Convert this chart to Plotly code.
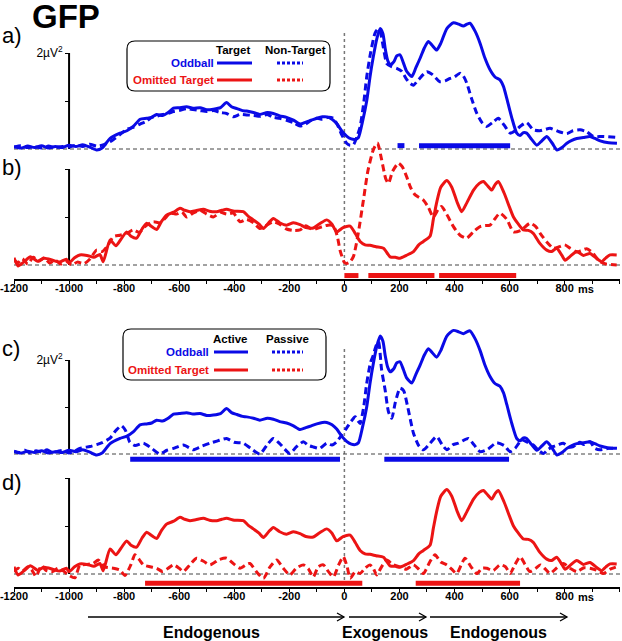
import plotly.graph_objects as go

# ---------------- DATA (values in µV², time in ms) ----------------
# Oddball Target (= Oddball Active), panels a and c, solid blue
odd_target_t = [-1200, -1175, -1150, -1125, -1100, -1075, -1050, -1025, -1000, -975, -950, -925, -900, -880,
                -851, -815, -790, -767, -742, -718, -700, -682, -660, -640, -621, -600, -573, -550, -524, -500,
                -476, -450, -428, -410, -390, -370, -355, -330, -307, -280, -258, -235, -210, -185, -161, -140,
                -120, -100, -80, -64, -45, -28, -10, 8, 25, 39, 51, 65, 81, 93, 105, 118, 130, 140, 148, 157,
                166, 180, 190, 202, 214, 226, 245, 260, 275, 290, 305, 320, 335, 350, 372, 396, 415, 432, 445,
                456, 475, 493, 510, 529, 547, 565, 578, 590, 608, 626, 638, 650, 662, 680, 699, 717, 735, 755,
                772, 790, 808, 826, 844, 868, 892, 910, 929, 960, 990]
odd_target_v = [0.05, 0.02, 0.06, 0.03, 0.07, 0.02, 0.05, 0.03, 0.08, 0.05, 0.09, 0.04, -0.02, 0.02,
                0.22, 0.33, 0.38, 0.47, 0.62, 0.64, 0.66, 0.72, 0.70, 0.76, 0.85, 0.86, 0.88, 0.85, 0.86, 0.82,
                0.83, 0.86, 0.97, 0.88, 0.84, 0.80, 0.79, 0.76, 0.72, 0.76, 0.74, 0.69, 0.66, 0.60, 0.52, 0.56,
                0.60, 0.64, 0.67, 0.67, 0.62, 0.53, 0.38, 0.27, 0.21, 0.20, 0.24, 0.55, 1.00, 1.50, 1.92, 2.30,
                2.51, 2.40, 2.10, 1.85, 1.75, 1.82, 1.94, 1.96, 1.80, 1.62, 1.51, 1.70, 1.89, 2.10, 2.24, 2.15,
                2.06, 2.20, 2.51, 2.63, 2.60, 2.56, 2.60, 2.62, 2.45, 2.20, 1.90, 1.65, 1.50, 1.44, 1.30, 1.05,
                0.65, 0.33, 0.28, 0.34, 0.33, 0.20, 0.08, 0.17, 0.26, 0.12, -0.02, 0.03, 0.12, 0.18, 0.22, 0.24,
                0.26, 0.22, 0.17, 0.13, 0.12]

# Oddball Non-Target, panel a, dashed blue
odd_nontarget_t = [-1200, -1175, -1150, -1125, -1100, -1075, -1050, -1025, -1000, -975, -950, -925, -900, -880,
                   -851, -815, -790, -767, -742, -718, -700, -682, -660, -640, -621, -600, -573, -550, -524, -500,
                   -476, -450, -428, -403, -380, -355, -330, -307, -280, -258, -235, -210, -185, -161, -140, -120,
                   -100, -80, -60, -40, -25, -10, 8, 20, 33, 45, 57, 70, 81, 95, 111, 122, 130, 142, 154, 170,
                   190, 208, 226, 240, 251, 270, 299, 320, 347, 366, 384, 400, 420, 432, 444, 462, 481, 500, 517,
                   540, 559, 580, 602, 620, 640, 662, 686, 710, 747, 780, 808, 830, 856, 880, 904, 940, 989]
odd_nontarget_v = [0.04, 0.07, 0.03, 0.05, 0.02, 0.06, 0.03, 0.05, 0.04, 0.08, 0.05, 0.10, 0.06, 0.08,
                   0.15, 0.30, 0.41, 0.45, 0.52, 0.58, 0.66, 0.68, 0.72, 0.74, 0.78, 0.80, 0.84, 0.82, 0.80, 0.78,
                   0.80, 0.76, 0.74, 0.67, 0.72, 0.71, 0.70, 0.68, 0.72, 0.66, 0.64, 0.60, 0.55, 0.48, 0.52, 0.60,
                   0.64, 0.62, 0.66, 0.64, 0.50, 0.30, 0.12, 0.08, 0.09, 0.25, 0.46, 0.95, 1.50, 2.00, 2.41, 2.50,
                   2.45, 2.10, 1.78, 1.72, 1.68, 1.62, 1.45, 1.36, 1.33, 1.45, 1.61, 1.55, 1.40, 1.42, 1.47, 1.50,
                   1.58, 1.52, 1.38, 1.05, 0.74, 0.55, 0.47, 0.56, 0.64, 0.50, 0.33, 0.38, 0.48, 0.55, 0.40, 0.38,
                   0.43, 0.36, 0.32, 0.38, 0.40, 0.36, 0.26, 0.26, 0.24]

# Omitted Target (= Omitted Target Active), panels b and d, solid red
om_target_t = [-1200, -1185, -1165, -1140, -1115, -1090, -1060, -1035, -1010, -1000, -980, -961, -935, -910,
               -888, -876, -851, -830, -810, -791, -775, -755, -735, -718, -700, -682, -665, -646, -620, -597,
               -580, -561, -540, -512, -490, -464, -445, -428, -400, -367, -350, -331, -310, -294, -275, -258,
               -235, -210, -185, -161, -140, -113, -90, -64, -45, -28, -5, 21, 40, 57, 75, 93, 115, 142, 166,
               185, 202, 225, 251, 270, 287, 311, 323, 335, 350, 372, 390, 410, 426, 445, 469, 490, 505, 520,
               535, 548, 559, 580, 600, 614, 632, 650, 668, 686, 710, 735, 752, 771, 790, 802, 820, 844, 868,
               892, 915, 935, 950, 965, 989]
om_target_v = [0.15, -0.02, 0.06, 0.17, 0.08, 0.14, 0.10, 0.06, 0.12, 0.05, 0.15, 0.21, 0.20, 0.16,
               0.22, 0.07, 0.52, 0.40, 0.55, 0.69, 0.60, 0.56, 0.75, 0.87, 0.80, 0.74, 0.90, 1.04, 1.10, 1.18,
               1.14, 1.11, 1.13, 1.16, 1.12, 1.11, 1.14, 1.16, 1.12, 1.11, 1.02, 0.94, 0.85, 0.76, 0.88, 0.97,
               0.88, 0.83, 0.88, 0.84, 0.78, 0.77, 0.86, 0.94, 0.85, 0.69, 0.78, 0.81, 0.65, 0.49, 0.42, 0.41,
               0.38, 0.35, 0.17, 0.16, 0.14, 0.20, 0.28, 0.42, 0.49, 0.60, 0.95, 1.30, 1.62, 1.76, 1.62, 1.30,
               1.11, 1.30, 1.56, 1.70, 1.74, 1.65, 1.56, 1.68, 1.74, 1.50, 1.20, 1.00, 0.85, 0.73, 0.72, 0.66,
               0.45, 0.31, 0.28, 0.35, 0.20, 0.10, 0.18, 0.28, 0.20, 0.24, 0.14, 0.07, 0.15, 0.21, 0.21]

# Omitted Target Non-Target, panel b, dashed red
om_nontarget_t = [-1200, -1185, -1170, -1150, -1130, -1110, -1090, -1070, -1050, -1030, -1010, -990, -970, -945,
                  -925, -900, -880, -860, -839, -815, -790, -767, -745, -720, -694, -670, -650, -634, -610, -590,
                  -573, -550, -524, -500, -476, -450, -428, -403, -379, -355, -330, -307, -285, -258, -235, -210,
                  -185, -161, -140, -120, -100, -80, -60, -40, -25, -16, 0, 8, 20, 33, 50, 69, 85, 105, 120, 135,
                  150, 160, 175, 196, 210, 226, 240, 257, 287, 305, 323, 340, 353, 372, 396, 420, 444, 470, 493,
                  510, 529, 545, 565, 590, 614, 640, 674, 695, 711, 735, 759, 780, 800, 820, 844, 860, 880, 900,
                  928, 950, 989]
om_nontarget_v = [0.10, 0.05, 0.13, 0.02, 0.16, 0.08, 0.15, 0.04, 0.10, 0.02, 0.08, 0.00, 0.06, 0.03,
                  0.12, 0.31, 0.28, 0.40, 0.59, 0.62, 0.66, 0.73, 0.68, 0.82, 0.90, 0.88, 0.98, 1.08, 1.06, 1.10,
                  1.00, 1.08, 1.14, 1.06, 1.00, 1.10, 1.06, 1.08, 0.90, 0.95, 0.88, 0.76, 0.82, 0.90, 0.85, 0.75,
                  0.72, 0.73, 0.82, 0.75, 0.76, 0.80, 0.83, 0.82, 0.58, 0.31, 0.05, 0.03, 0.06, 0.18, 0.65, 1.35,
                  1.95, 2.40, 2.54, 2.20, 1.80, 1.70, 1.95, 2.12, 2.05, 1.84, 1.62, 1.46, 1.35, 1.20, 1.00, 1.15,
                  1.22, 1.05, 0.80, 0.62, 0.56, 0.70, 0.80, 0.82, 0.83, 0.95, 1.08, 0.95, 0.69, 0.72, 0.87, 0.80,
                  0.66, 0.48, 0.35, 0.38, 0.42, 0.35, 0.27, 0.30, 0.34, 0.26, 0.07, 0.02, 0.00]

# Oddball Passive, panel c, dashed blue
odd_passive_t = [-1200, -1180, -1160, -1140, -1120, -1100, -1080, -1060, -1040, -1020, -1000, -980, -961, -924,
                 -900, -880, -851, -830, -810, -795, -779, -760, -730, -700, -670, -645, -621, -585, -560, -549,
                 -520, -488, -460, -428, -400, -367, -340, -307, -280, -258, -235, -198, -175, -149, -130, -113,
                 -90, -64, -45, -28, -10, 8, 25, 39, 50, 57, 70, 81, 95, 105, 115, 124, 135, 148, 160, 172, 185,
                 202, 215, 230, 251, 270, 287, 310, 335, 355, 372, 395, 414, 450, 470, 493, 520, 553, 580, 602,
                 620, 644, 665, 686, 705, 723, 740, 759, 777, 795, 815, 832, 855, 870, 892, 910, 928, 960, 989]
odd_passive_v = [0.06, 0.03, 0.08, 0.02, 0.07, 0.04, 0.09, 0.03, 0.06, 0.08, 0.02, 0.06, 0.12, 0.16,
                 0.20, 0.24, 0.34, 0.50, 0.60, 0.50, 0.25, 0.18, 0.23, 0.12, 0.00, 0.08, 0.12, 0.19, 0.12, 0.09,
                 0.16, 0.23, 0.28, 0.33, 0.25, 0.23, 0.12, 0.00, 0.20, 0.33, 0.22, 0.01, 0.15, 0.26, 0.18, 0.15,
                 0.12, 0.23, 0.19, 0.26, 0.40, 0.55, 0.70, 0.79, 0.70, 0.65, 1.00, 1.50, 1.95, 2.10, 2.30, 2.39,
                 1.80, 1.36, 0.90, 0.76, 1.10, 1.40, 1.35, 1.00, 0.44, 0.18, 0.09, 0.22, 0.37, 0.20, 0.09, 0.20,
                 0.23, 0.33, 0.20, 0.05, 0.10, 0.24, 0.18, 0.05, 0.12, 0.30, 0.25, 0.19, 0.08, 0.01, 0.10, 0.16,
                 0.20, 0.23, 0.15, 0.16, 0.25, 0.20, 0.26, 0.12, 0.09, 0.12, 0.12]

# Omitted Target Passive, panel d, dashed red
om_passive_t = [-1200, -1185, -1170, -1150, -1135, -1120, -1100, -1085, -1060, -1040, -1020, -1003, -979, -961,
                -935, -912, -894, -870, -839, -815, -797, -775, -761, -745, -730, -705, -682, -660, -640, -621,
                -600, -585, -560, -537, -510, -488, -455, -428, -400, -379, -355, -343, -320, -294, -270, -246,
                -222, -198, -175, -149, -130, -113, -95, -76, -58, -40, -20, -4, 10, 21, 40, 57, 75, 93, 105,
                117, 135, 154, 175, 202, 225, 251, 270, 287, 310, 329, 350, 372, 390, 408, 425, 438, 460, 481,
                500, 517, 540, 565, 585, 602, 620, 638, 656, 674, 695, 711, 730, 747, 770, 795, 820, 844, 870,
                892, 915, 941, 965, 989]
om_passive_v = [0.05, 0.12, 0.06, 0.15, 0.08, -0.05, 0.18, 0.08, 0.05, 0.12, 0.06, -0.02, -0.08, 0.18,
                0.20, 0.22, 0.29, 0.15, 0.12, 0.08, -0.03, 0.20, 0.40, 0.30, 0.19, 0.15, 0.12, 0.05, 0.12, 0.19,
                0.12, 0.05, 0.20, 0.33, 0.26, 0.19, 0.30, 0.33, 0.20, 0.12, 0.20, 0.22, 0.05, -0.09, 0.15, 0.29,
                0.12, -0.02, 0.12, 0.19, 0.10, -0.06, 0.15, 0.19, 0.05, -0.06, 0.20, 0.36, 0.15, -0.09, 0.05,
                0.01, 0.12, 0.19, 0.12, -0.02, 0.15, 0.29, 0.20, 0.15, 0.10, 0.19, 0.10, 0.01, 0.25, 0.40, 0.25,
                0.19, 0.10, 0.01, 0.20, 0.33, 0.15, 0.01, 0.12, 0.12, 0.07, 0.19, 0.15, 0.01, 0.20, 0.36, 0.20,
                0.05, 0.12, 0.19, 0.10, 0.01, 0.12, 0.22, 0.12, 0.05, 0.13, 0.12, 0.08, 0.01, 0.10, 0.15]

# Significant intervals (ms)
sig_a_start = [193, 271]
sig_a_end = [218, 602]
sig_b_start = [0, 87, 344]
sig_b_end = [51, 327, 624]
sig_c_start = [-778, 145]
sig_c_end = [-16, 598]
sig_d_start = [-724, 259]
sig_d_end = [65, 638]

tick_vals = [-1200, -1000, -800, -600, -400, -200, 0, 200, 400, 600, 800]
tick_text = ["-1200", "-1000", "-800", "-600", "-400", "-200", "0", "200", "400", "600", "800"]

# ---------------- LAYOUT HELPERS ----------------
W, H = 622, 641
FONT = "Liberation Sans, Arial, sans-serif"
BLUE = "#0A0AE6"
RED = "#EC1414"
X_LEFT_PX, X_RIGHT_PX = 14, 620
X_MIN, X_MAX = -1200, 1001


def pxx(x):
    return x / W


def pxy(y):
    return 1 - y / H


def ms_to_px(ms):
    return X_LEFT_PX + (ms - X_MIN) / (X_MAX - X_MIN) * (X_RIGHT_PX - X_LEFT_PX)


# panel geometry: base pixel row of 0 µV², pixels per µV², top/bottom pixel of plotting area
panels = {
    "a": dict(base=149, scale=48, top=8, bottom=162, xa="x", ya="y", sig_y=0.07),
    "b": dict(base=265, scale=48, top=125, bottom=279, xa="x2", ya="y2", sig_y=-0.22),
    "c": dict(base=454, scale=47, top=320, bottom=470, xa="x3", ya="y3", sig_y=-0.11),
    "d": dict(base=574, scale=48, top=440, bottom=587, xa="x4", ya="y4", sig_y=-0.195),
}

fig = go.Figure()

DASH = "7px,4px"


def add_curve(t, v, color, dash, p):
    fig.add_trace(go.Scatter(
        x=t, y=v, xaxis=p["xa"], yaxis=p["ya"], mode="lines", showlegend=False, hoverinfo="skip",
        line=dict(color=color, width=3, dash=dash, shape="spline", smoothing=0.6)))


def add_sig(starts, ends, color, p):
    for s, e in zip(starts, ends):
        fig.add_trace(go.Scatter(
            x=[s, e], y=[p["sig_y"], p["sig_y"]], xaxis=p["xa"], yaxis=p["ya"], mode="lines",
            showlegend=False, hoverinfo="skip", line=dict(color=color, width=5)))


shapes = []
annotations = []

for key, p in panels.items():
    # baseline (dashed)
    shapes.append(dict(type="line", xref=p["xa"], yref=p["ya"], x0=X_MIN, x1=X_MAX, y0=0, y1=0,
                       line=dict(color="#444444", width=1, dash="4px,3px"), layer="below"))
    # vertical axis at -1000 ms
    shapes.append(dict(type="line", xref=p["xa"], yref=p["ya"], x0=-1000, x1=-1000, y0=0, y1=2,
                       line=dict(color="black", width=2), layer="below"))

add_curve(odd_target_t, odd_target_v, BLUE, "solid", panels["a"])
add_curve(odd_nontarget_t, odd_nontarget_v, BLUE, DASH, panels["a"])
add_sig(sig_a_start, sig_a_end, BLUE, panels["a"])

add_curve(om_target_t, om_target_v, RED, "solid", panels["b"])
add_curve(om_nontarget_t, om_nontarget_v, RED, DASH, panels["b"])
add_sig(sig_b_start, sig_b_end, RED, panels["b"])

add_curve(odd_target_t, odd_target_v, BLUE, "solid", panels["c"])
add_curve(odd_passive_t, odd_passive_v, BLUE, DASH, panels["c"])
add_sig(sig_c_start, sig_c_end, BLUE, panels["c"])

add_curve(om_target_t, om_target_v, RED, "solid", panels["d"])
add_curve(om_passive_t, om_passive_v, RED, DASH, panels["d"])
add_sig(sig_d_start, sig_d_end, RED, panels["d"])

# dotted stimulus-onset lines
x0_paper = pxx(ms_to_px(0))
for y_top, y_bot in [(33, 273), (349, 583)]:
    shapes.append(dict(type="line", xref="paper", yref="paper", x0=x0_paper, x1=x0_paper,
                       y0=pxy(y_top), y1=pxy(y_bot), line=dict(color="#777777", width=1.5, dash="dot"),
                       layer="below"))

# axes
layout_axes = {}
yaxis_pos = pxx(ms_to_px(-1000))
for i, (key, p) in enumerate(panels.items()):
    n = "" if i == 0 else str(i + 1)
    lo = (p["base"] - p["bottom"]) / p["scale"]
    hi = (p["base"] - p["top"]) / p["scale"]
    show_x = key in ("b", "d")
    xa = dict(domain=[pxx(X_LEFT_PX), pxx(X_RIGHT_PX)], range=[X_MIN, X_MAX], anchor="y" + n,
              showgrid=False, zeroline=False, visible=show_x, fixedrange=True, automargin=False)
    if show_x:
        xa.update(showline=True, linecolor="black", linewidth=1.5, ticks="outside", ticklen=3,
                  tickcolor="black", tickwidth=1.2, tickvals=tick_vals, ticktext=tick_text,
                  ticklabeloverflow="allow", ticklabelstandoff=-5,
                  tickfont=dict(family=FONT, size=11, color="black", weight="bold"),
                  minor=dict(dtick=100, tick0=0, ticks="outside", ticklen=3, tickcolor="black", tickwidth=1.2))
    label = "2µV<sup>2</sup>" if key in ("a", "c") else ""
    ya = dict(domain=[pxy(p["bottom"]), pxy(p["top"])], range=[lo, hi], anchor="free", position=yaxis_pos,
              showgrid=False, zeroline=False, showline=False, ticks="outside", ticklen=4, tickwidth=1.2,
              tickcolor="black", tickvals=[1, 2], ticktext=["", label], ticklabeloverflow="allow",
              automargin=False, tickfont=dict(family=FONT, size=12, color="black"), fixedrange=True)
    layout_axes["xaxis" + n] = xa
    layout_axes["yaxis" + n] = ya

# " ms" after the 800 tick labels
for key in ("b", "d"):
    p = panels[key]
    annotations.append(dict(text="<b>ms</b>", xref="paper", yref="paper", x=pxx(ms_to_px(800) + 11),
                            y=pxy(p["bottom"] + 10), xanchor="left", yanchor="middle", showarrow=False,
                            font=dict(family=FONT, size=11, color="black")))

# title and panel letters
annotations.append(dict(text="<b>GFP</b>", xref="paper", yref="paper", x=pxx(30), y=pxy(17),
                        xanchor="left", yanchor="middle", showarrow=False,
                        font=dict(family=FONT, size=33, color="black")))
for letter, yc in [("a)", 36), ("b)", 167), ("c)", 348), ("d)", 482)]:
    annotations.append(dict(text=letter, xref="paper", yref="paper", x=pxx(0), y=pxy(yc),
                            xanchor="left", yanchor="middle", showarrow=False,
                            font=dict(family=FONT, size=22, color="black")))


def rounded_box(x0, y0, x1, y1, r=8):
    rx, ry = r / W, r / H
    X0, X1 = pxx(x0), pxx(x1)
    Y0, Y1 = pxy(y0), pxy(y1)  # Y0 top (larger), Y1 bottom
    path = (f"M {X0 + rx},{Y0} L {X1 - rx},{Y0} Q {X1},{Y0} {X1},{Y0 - ry} "
            f"L {X1},{Y1 + ry} Q {X1},{Y1} {X1 - rx},{Y1} "
            f"L {X0 + rx},{Y1} Q {X0},{Y1} {X0},{Y1 + ry} "
            f"L {X0},{Y0 - ry} Q {X0},{Y0} {X0 + rx},{Y0} Z")
    return dict(type="path", xref="paper", yref="paper", path=path,
                line=dict(color="black", width=1.2), fillcolor="white")


def legend(box, head1, head1_c, head2, head2_c, y_head, y_row1, y_row2, text_right, solid_x, dot_x):
    shapes.append(rounded_box(*box))
    for txt, xc in [(head1, head1_c), (head2, head2_c)]:
        annotations.append(dict(text=f"<b>{txt}</b>", xref="paper", yref="paper", x=pxx(xc), y=pxy(y_head),
                                xanchor="center", yanchor="middle", showarrow=False,
                                font=dict(family=FONT, size=11.5, color="black")))
    for txt, col, yy in [("Oddball", BLUE, y_row1), ("Omitted Target", RED, y_row2)]:
        annotations.append(dict(text=f"<b>{txt}</b>", xref="paper", yref="paper", x=pxx(text_right),
                                y=pxy(yy), xanchor="right", yanchor="middle", showarrow=False,
                                font=dict(family=FONT, size=11.5, color=col)))
        shapes.append(dict(type="line", xref="paper", yref="paper", x0=pxx(solid_x[0]), x1=pxx(solid_x[1]),
                           y0=pxy(yy), y1=pxy(yy), line=dict(color=col, width=3)))
        shapes.append(dict(type="line", xref="paper", yref="paper", x0=pxx(dot_x[0]), x1=pxx(dot_x[1]),
                           y0=pxy(yy), y1=pxy(yy), line=dict(color=col, width=3, dash="3px,2px")))


legend((127, 41, 330, 91), "Target", 233, "Non-Target", 295, 50, 63, 80, 216, (217, 252), (277, 303))
legend((123, 329, 326, 380), "Active", 230, "Passive", 287, 339, 352, 370, 211, (214, 248), (272, 303))

# arrows and phase labels
arrow_y = 617
for x0, x1 in [(88, 344), (349, 426), (430, 567)]:
    shapes.append(dict(type="line", xref="paper", yref="paper", x0=pxx(x0), x1=pxx(x1),
                       y0=pxy(arrow_y), y1=pxy(arrow_y), line=dict(color="black", width=1.3)))
    shapes.append(dict(type="path", xref="paper", yref="paper",
                       path=f"M {pxx(x1 - 7)},{pxy(arrow_y - 4)} L {pxx(x1)},{pxy(arrow_y)} "
                            f"L {pxx(x1 - 7)},{pxy(arrow_y + 4)}",
                       line=dict(color="black", width=1.3)))
for txt, xc in [("Endogenous", 211), ("Exogenous", 385), ("Endogenous", 498)]:
    annotations.append(dict(text=f"<b>{txt}</b>", xref="paper", yref="paper", x=pxx(xc), y=pxy(632),
                            xanchor="center", yanchor="middle", showarrow=False,
                            font=dict(family=FONT, size=16, color="black")))

fig.update_layout(
    width=W, height=H, margin=dict(l=0, r=0, t=0, b=0, autoexpand=False),
    paper_bgcolor="white", plot_bgcolor="rgba(0,0,0,0)",
    shapes=shapes, annotations=annotations, showlegend=False,
    font=dict(family=FONT, color="black"),
    **layout_axes,
)

fig.write_html("out.html", config={"displayModeBar": False},
               post_script="document.body.style.margin='0';document.body.style.overflow='hidden';")
